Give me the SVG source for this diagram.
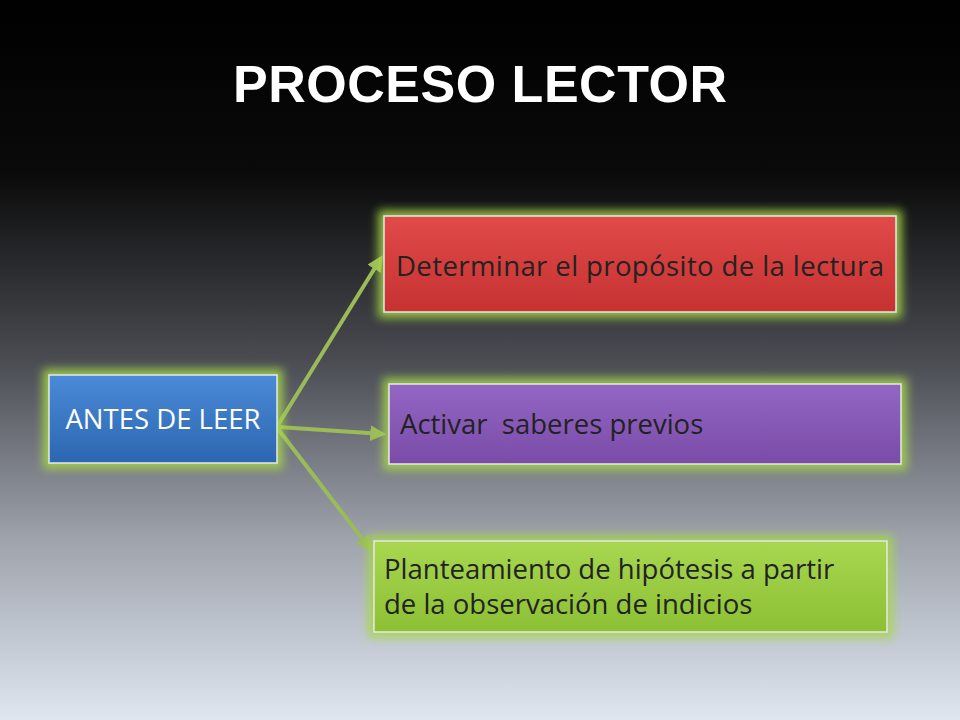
<svg xmlns="http://www.w3.org/2000/svg" width="960" height="720" viewBox="0 0 960 720">
<defs>
<linearGradient id="bg" x1="0" y1="0" x2="0" y2="1">
<stop offset="0" stop-color="#000"/><stop offset="0.24" stop-color="#0a0a0a"/><stop offset="0.5" stop-color="#4a4c52"/><stop offset="0.75" stop-color="#9ea3ac"/><stop offset="1" stop-color="#e0e6f0"/>
</linearGradient>
<linearGradient id="gb" x1="0" y1="0" x2="0" y2="1"><stop offset="0" stop-color="#4a8ad8"/><stop offset="1" stop-color="#2c66b0"/></linearGradient>
<linearGradient id="gr" x1="0" y1="0" x2="0" y2="1"><stop offset="0" stop-color="#e04a48"/><stop offset="1" stop-color="#c63232"/></linearGradient>
<linearGradient id="gp" x1="0" y1="0" x2="0" y2="1"><stop offset="0" stop-color="#9466c4"/><stop offset="1" stop-color="#7a4ca8"/></linearGradient>
<linearGradient id="gg" x1="0" y1="0" x2="0" y2="1"><stop offset="0" stop-color="#a8d650"/><stop offset="1" stop-color="#8cc034"/></linearGradient>
<filter id="glow" x="-20%" y="-40%" width="140%" height="180%"><feGaussianBlur stdDeviation="5"/></filter>
<marker id="ah" viewBox="0 0 10 10" refX="8" refY="5" markerWidth="4" markerHeight="4" orient="auto"><path d="M0,0 L10,5 L0,10 z" fill="#9bbb59"/></marker>
</defs>
<style>
.gl{fill:#a6d84a;opacity:0.85;filter:url(#glow)}
.bx{stroke:#e8e8e8;stroke-width:1.5}
.t{font-family:"Open Sans","Liberation Sans",sans-serif;font-size:27.5px}
.c{stroke:#9bbb59;stroke-width:4;fill:none;marker-end:url(#ah)}
</style>
<rect width="960" height="720" fill="url(#bg)"/>
<text x="480" y="102" text-anchor="middle" font-family="Liberation Sans,Arial,sans-serif" font-weight="bold" font-size="52" fill="#fff" textLength="494">PROCESO LECTOR</text>
<g id="connectors">
<line class="c" x1="278" y1="425" x2="381" y2="258"/>
<line class="c" x1="278" y1="427" x2="383" y2="434"/>
<line class="c" x1="278" y1="429" x2="370" y2="549"/>
</g>
<g id="n1"><rect class="gl" x="43" y="369" width="240" height="100"/><rect class="bx" x="49" y="375" width="228" height="88" fill="url(#gb)"/><text class="t" x="163" y="429" text-anchor="middle" fill="#fff">ANTES DE LEER</text></g>
<g id="n2"><rect class="gl" x="378" y="210" width="524" height="108"/><rect class="bx" x="384" y="216" width="512" height="96" fill="url(#gr)"/><text class="t" x="396" y="276" fill="#222" textLength="488">Determinar el propósito de la lectura</text></g>
<g id="n3"><rect class="gl" x="383" y="378" width="524" height="92"/><rect class="bx" x="389" y="384" width="512" height="80" fill="url(#gp)"/><text class="t" x="400" y="434" fill="#222" xml:space="preserve">Activar  saberes previos</text></g>
<g id="n4"><rect class="gl" x="368" y="535" width="525" height="103"/><rect class="bx" x="374" y="541" width="513" height="91" fill="url(#gg)"/><text class="t" x="384" y="579" fill="#222">Planteamiento de hipótesis a partir</text><text class="t" x="384" y="614" fill="#222">de la observación de indicios</text></g>
</svg>
